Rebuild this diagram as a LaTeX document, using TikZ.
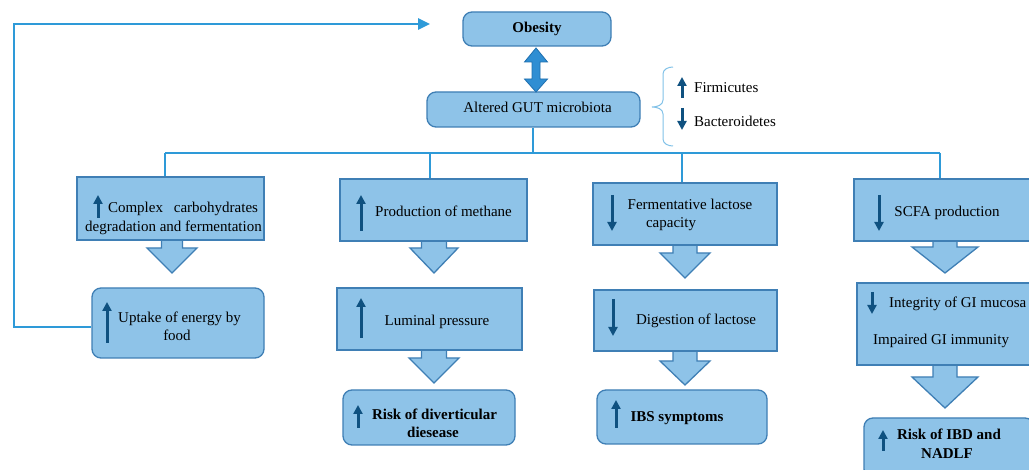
\documentclass[tikz,border=0pt]{standalone}
\usepackage{fontspec}
\setmainfont{Liberation Serif}
\usetikzlibrary{arrows.meta}
\definecolor{boxfill}{HTML}{8EC3E8}
\definecolor{boxline}{HTML}{3F7FB5}
\definecolor{linkcol}{HTML}{2E9AD8}
\definecolor{darkarr}{HTML}{0F5180}
\definecolor{dblfill}{HTML}{2F8ED3}
\definecolor{dblline}{HTML}{1F6FAF}
\tikzset{
  basebox/.style={draw=boxline, fill=boxfill, line width=1.3pt, inner sep=0pt},
  sbox/.style={basebox},
  rbox/.style={basebox, rounded corners=9pt},
  fatarrow/.style={draw=boxline, fill=boxfill, line width=1.3pt, line join=miter},
  link/.style={draw=linkcol, line width=1.8pt},
  feed/.style={draw=linkcol, line width=2.6pt, -{Triangle[width=11pt,length=12pt]}},
  ico/.style={draw=darkarr, line width=3pt, -{Triangle[width=9pt,length=9pt]}},
  txt/.style={inner sep=0pt, anchor=base, font=\fontsize{15}{18}\selectfont},
  txtw/.style={txt, anchor=base west},
  btxt/.style={txt, font=\fontsize{15}{18}\selectfont\bfseries},
  bracecol/.style={draw=linkcol!60, line width=1pt},
}
\newcommand{\fatdown}[6]{\filldraw[fatarrow] (#1-#5,#2) -- (#1-#5,#3) -- (#1-#6,#3) -- (#1,#4) -- (#1+#6,#3) -- (#1+#5,#3) -- (#1+#5,#2) -- cycle;}
\begin{document}
\begin{tikzpicture}[x=1pt,y=-1pt]
\clip (0,0) rectangle (1029,470);
\fill[white] (0,0) rectangle (1029,470);

% block arrows
\fatdown{172}{240}{248}{273}{10.5}{25}
\fatdown{434}{241}{248}{273}{12.5}{24}
\fatdown{685}{245}{253}{278}{12}{25}
\fatdown{945}{241}{247}{273}{12}{33}
\fatdown{434}{350}{358}{383}{12.5}{25}
\fatdown{685}{351}{361}{385}{12}{25}
\fatdown{945}{365}{377}{408}{12}{33}

% boxes
\node[rbox, minimum width=148pt, minimum height=34pt] (obes) at (537,29) {};
\node[rbox, minimum width=213pt, minimum height=35pt] (gut) at (533.5,109.5) {};
\node[sbox, minimum width=187pt, minimum height=63pt] (b1) at (170.5,208.5) {};
\node[sbox, minimum width=187pt, minimum height=62pt] (b2) at (433.5,210) {};
\node[sbox, minimum width=184pt, minimum height=62pt] (b3) at (685,214) {};
\node[sbox, minimum width=182pt, minimum height=62pt] (b4) at (945,210) {};
\node[rbox, minimum width=172pt, minimum height=70pt] (u1) at (178,323) {};
\node[sbox, minimum width=185pt, minimum height=62pt] (l2) at (429.5,319) {};
\node[rbox, minimum width=172pt, minimum height=55pt] (r2) at (429,417.5) {};
\node[sbox, minimum width=183pt, minimum height=61pt] (d3) at (685.5,320.5) {};
\node[rbox, minimum width=170pt, minimum height=54pt] (i3) at (682,417) {};
\node[sbox, minimum width=183pt, minimum height=82pt] (g4) at (948.5,324) {};
\node[rbox, minimum width=170pt, minimum height=60pt] (k4) at (949,448) {};

% double arrow
\filldraw[draw=dblline, fill=dblfill, line width=0.8pt, line join=miter]
  (536,48) -- (547.5,62) -- (540,62) -- (540,79) -- (547.5,79) -- (536,92)
  -- (524.5,79) -- (532,79) -- (532,62) -- (524.5,62) -- cycle;

% tree connectors
\coordinate (tj) at (533,153);
\coordinate (d1) at (165,153);
\coordinate (d2) at (430,153);
\coordinate (d3c) at (682,153);
\coordinate (d4) at (940,153);
\draw[link] (gut.south -| tj) -- (tj);
\draw[link] (d1) -- (d4);
\draw[link] (d1) -- (d1 |- b1.north);
\draw[link] (d2) -- (d2 |- b2.north);
\draw[link] (d3c) -- (d3c |- b3.north);
\draw[link] (d4) -- (d4 |- b4.north);

% feedback arrow
\coordinate (fb1) at (14,327);
\coordinate (fb2) at (14,24);
\coordinate (fbtip) at (430,24);
\draw[feed] (u1.west |- fb1) -- (fb1) -- (fb2) -- (fbtip);

% brace
\draw[bracecol] (673,67) to[out=180,in=90] (663,74) -- (663,100)
  to[out=270,in=0] (652,107) to[out=0,in=90] (663,114) -- (663,139)
  to[out=270,in=180] (673,146);

% icon arrows
\draw[ico] (682,98) -- (682,77);
\draw[ico] (682,108) -- (682,130);
\draw[ico] (98,218) -- (98,195);
\draw[ico] (361,231) -- (361,195);
\draw[ico] (612,195) -- (612,231);
\draw[ico] (879,195) -- (879,231);
\draw[ico] (107,343) -- (107,302);
\draw[ico] (361,338) -- (361,298);
\draw[ico] (358,428) -- (358,405);
\draw[ico] (613,299) -- (613,336);
\draw[ico] (616,428) -- (616,400);
\draw[ico] (872,292) -- (872,314);
\draw[ico] (883,451) -- (883,430);

% texts
\node[btxt] (tobes) at (537,33) {Obesity};
\node[txt] (tgut) at (537.5,113) {Altered GUT microbiota};
\node[txtw] (tfirm) at (694,93) {Firmicutes};
\node[txtw] (tbact) at (694,127) {Bacteroidetes};
\node[txt] (tb1a) at (183,213) {\makebox[150pt][s]{Complex carbohydrates}};
\node[txt] (tb1b) at (173.5,232) {degradation and fermentation};
\node[txt] (tb2) at (443.5,217) {Production of methane};
\node[txt] (tb3a) at (690,210) {Fermentative lactose};
\node[txt] (tb3b) at (671,228) {capacity};
\node[txt] (tb4) at (947,217) {SCFA production};
\node[txt] (tu1a) at (179.5,323) {Uptake of energy by};
\node[txt] (tu1b) at (177,341) {food};
\node[txt] (tl2) at (437,326) {Luminal pressure};
\node[btxt] (tr2a) at (434.5,420) {Risk of diverticular};
\node[btxt] (tr2b) at (433,438) {diesease};
\node[txt] (td3) at (696,325) {Digestion of lactose};
\node[btxt] (ti3) at (677,422) {IBS symptoms};
\node[txtw] (tg4a) at (889,308) {Integrity of GI mucosa};
\node[txtw] (tg4b) at (873,345) {Impaired GI immunity};
\node[btxt] (tk4a) at (949,440) {Risk of IBD and};
\node[btxt] (tk4b) at (947,458) {NADLF};
\end{tikzpicture}
\end{document}
